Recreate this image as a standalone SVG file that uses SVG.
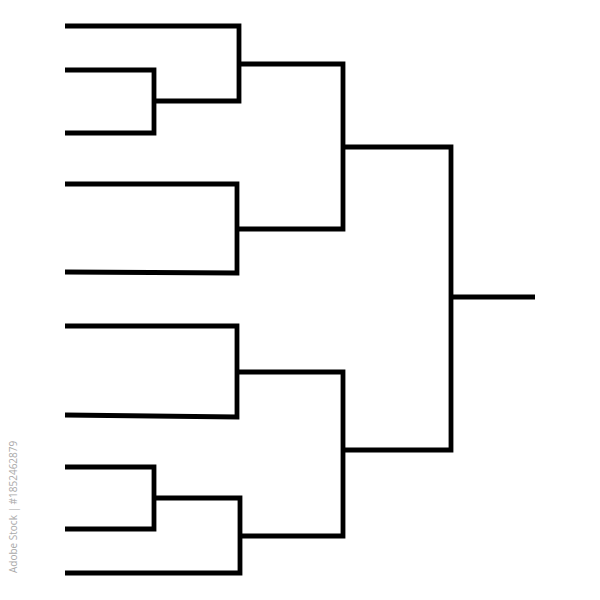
<svg xmlns="http://www.w3.org/2000/svg" width="600" height="600" viewBox="0 0 600 600">
  <style>
    .b { fill: none; stroke: #000; stroke-width: 4.8; stroke-linejoin: miter; stroke-linecap: butt; }
    .wm { font-family: "Open Sans", "Liberation Sans", sans-serif; font-size: 10px; fill: #aaa; }
  </style>
  <rect width="600" height="600" fill="#fff"/>
  <g id="connectors">
    <g id="r1-top">
      <polyline class="b" points="65,70 154,70 154,133 65,133"/>
      <polyline class="b" points="65,26 239,26 239,101 154,101"/>
    </g>
    <g id="r1-second">
      <polyline class="b" points="65,184 237,184 237,273 65,272"/>
    </g>
    <g id="r2-top">
      <polyline class="b" points="239,64 343,64 343,229 237,229"/>
    </g>
    <g id="r1-third">
      <polyline class="b" points="65,326 237,326 237,417 65,415"/>
    </g>
    <g id="r1-bottom">
      <polyline class="b" points="65,467 154,467 154,529 65,529"/>
      <polyline class="b" points="154,498 240,498 240,573 65,573"/>
    </g>
    <g id="r2-bottom">
      <polyline class="b" points="237,372 343,372 343,536 240,536"/>
    </g>
    <g id="final">
      <polyline class="b" points="343,147 451,147 451,450 343,450"/>
      <line class="b" x1="451" y1="297" x2="535" y2="297"/>
    </g>
  </g>
  <text class="wm" transform="translate(17,573) rotate(-90)">Adobe Stock | #1852462879</text>
</svg>
